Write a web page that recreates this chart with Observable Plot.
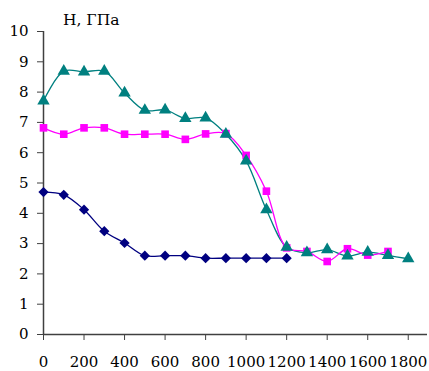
<!DOCTYPE html>
<html>
<head>
<meta charset="utf-8">
<script src="https://cdn.jsdelivr.net/npm/d3@7"></script>
<script src="https://cdn.jsdelivr.net/npm/@observablehq/plot@0.6"></script>
<style>
  html, body { margin: 0; padding: 0; background: #fff; }
  #wrap { position: relative; width: 429px; height: 371px; }
  #title { position: absolute; left: 63px; top: 13px; font-family: "DejaVu Serif", serif; font-size: 15.5px; line-height: 1; color: #000; }
</style>
</head>
<body>
<div id="wrap"><div id="title">H, ГПа</div></div>
<script>
const temps = [0,100,200,300,400,500,600,700,800,900,1000,1100,1200,1300,1400,1500,1600,1700,1800];
const seriesBlue = [4.70,4.61,4.12,3.41,3.02,2.60,2.60,2.60,2.52,2.52,2.52,2.52,2.52];
const seriesMagenta = [6.82,6.61,6.82,6.82,6.61,6.61,6.61,6.44,6.62,6.63,5.91,4.73,2.86,2.74,2.41,2.83,2.62,2.74];
const seriesTeal = [7.71,8.69,8.67,8.69,7.97,7.40,7.41,7.13,7.15,6.61,5.73,4.12,2.88,2.70,2.80,2.59,2.72,2.61,2.50];
const xTicks = [0,200,400,600,800,1000,1200,1400,1600,1800];
const yTicks = [0,1,2,3,4,5,6,7,8,9,10];

const toRows = (vals) => vals.map((v, i) => ({x: temps[i], y: v}));
const blue = toRows(seriesBlue);
const magenta = toRows(seriesMagenta);
const teal = toRows(seriesTeal);

const cBlue = "#000080", cMag = "#ff00ff", cTeal = "#008080";
const axisColor = "#404040";
const serif = "DejaVu Serif";

const chart = Plot.plot({
  width: 429,
  height: 371,
  marginLeft: 43,
  marginRight: 2,
  marginTop: 31,
  marginBottom: 37,
  style: {fontFamily: serif, fontSize: "15px", color: "#000", background: "#fff"},
  x: {domain: [0, 1895]},
  y: {domain: [0, 10]},
  marks: [
    Plot.ruleY([0], {stroke: axisColor, strokeWidth: 1.5}),
    Plot.ruleX([0], {y1: 0, y2: 10, stroke: axisColor, strokeWidth: 1.5}),
    Plot.axisX({ticks: xTicks, tickFormat: d3.format("d"), tickSize: 6, tickPadding: 16, stroke: axisColor, label: null, fontSize: 15, fontFamily: serif}),
    Plot.axisY({ticks: yTicks, tickFormat: d3.format("d"), tickSize: 6, tickPadding: 9, stroke: axisColor, label: null, fontSize: 15, fontFamily: serif}),
    Plot.line(teal, {x: "x", y: "y", stroke: cTeal, strokeWidth: 1.3, curve: "catmull-rom"}),
    Plot.line(magenta, {x: "x", y: "y", stroke: cMag, strokeWidth: 1.3, curve: "catmull-rom"}),
    Plot.line(blue, {x: "x", y: "y", stroke: cBlue, strokeWidth: 1.3, curve: "catmull-rom"}),
    Plot.dot(blue, {x: "x", y: "y", symbol: "diamond2", r: 4.6, fill: cBlue, stroke: "none"}),
    Plot.dot(magenta, {x: "x", y: "y", symbol: "square", r: 4.3, fill: cMag, stroke: "none"}),
    Plot.dot(teal, {x: "x", y: "y", symbol: "triangle", r: 4.6, fill: cTeal, stroke: "none"})
  ]
});
document.getElementById("wrap").prepend(chart);
</script>
</body>
</html>
